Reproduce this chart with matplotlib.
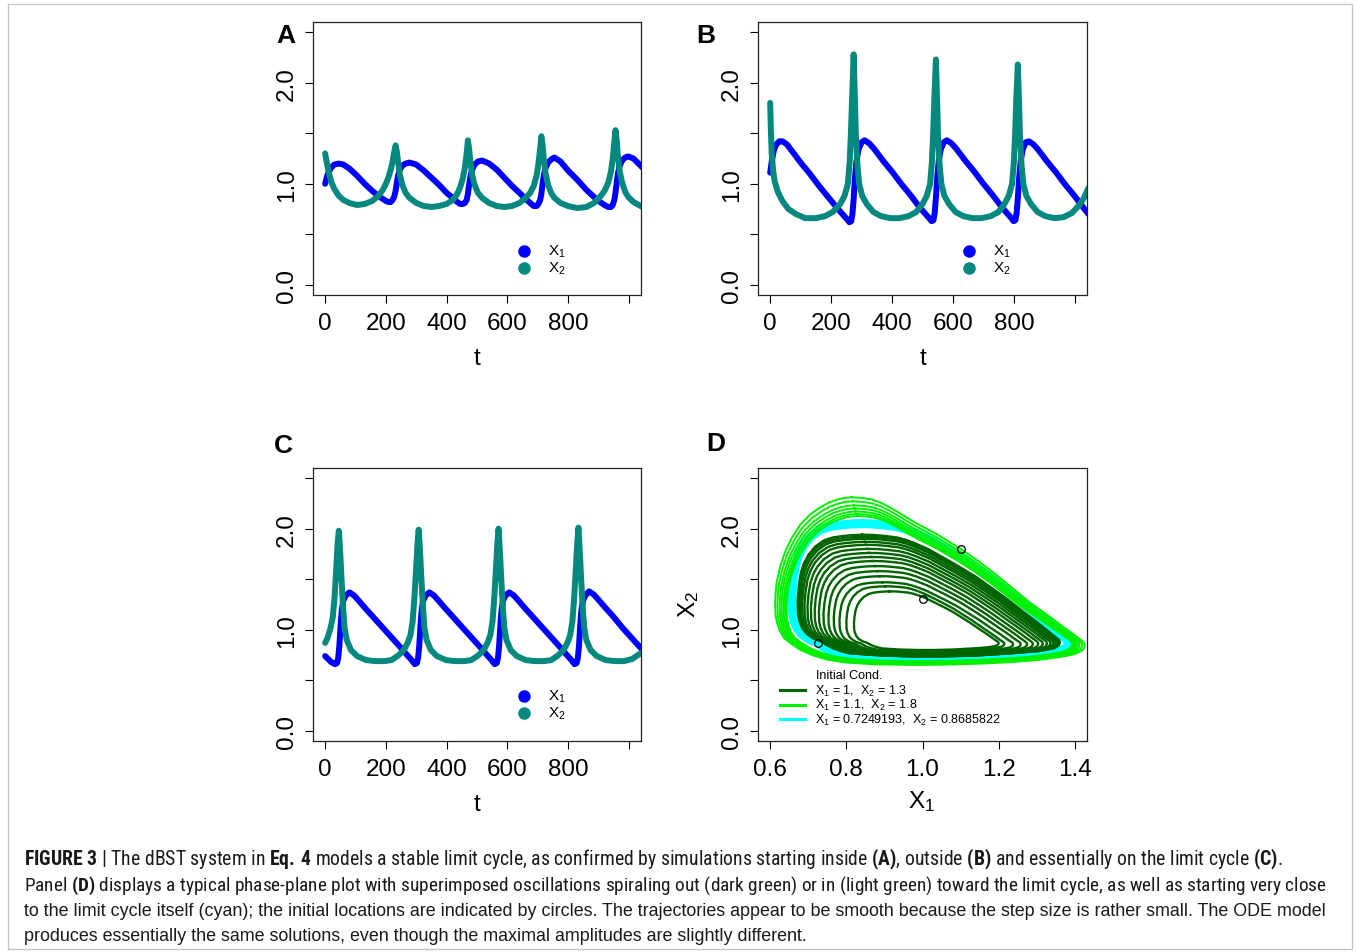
import matplotlib
matplotlib.use('Agg')
import matplotlib.pyplot as plt
import numpy as np
from matplotlib import font_manager
from matplotlib.lines import Line2D
from matplotlib.patches import Rectangle

W, H = 1356, 953

# Panel A: start inside the limit cycle (X1 = 1, X2 = 1.3)
t_a = [0, 6, 12, 20, 30, 45, 60, 80, 105, 130, 155, 175, 190, 200, 208, 216, 222, 227, 232, 236,
       240, 246, 254, 265, 278, 300, 325, 350, 375, 400, 420, 435, 445, 453, 460, 466, 470, 474, 478, 484,
       492, 503, 517, 540, 565, 590, 615, 640, 660, 675, 687, 696, 702, 708, 712, 716, 720, 726, 734, 744,
       755, 775, 800, 830, 860, 885, 905, 920, 932, 941, 947, 952, 956, 960, 964, 970, 978, 988, 998, 1015,
       1045]
x1_a = [1.00, 1.07, 1.12, 1.16, 1.19, 1.20, 1.19, 1.15, 1.08, 1.00, 0.93, 0.88, 0.85, 0.83, 0.82, 0.82, 0.84, 0.87, 0.93, 1.01,
        1.08, 1.14, 1.18, 1.20, 1.21, 1.19, 1.13, 1.06, 0.99, 0.91, 0.86, 0.82, 0.80, 0.80, 0.81, 0.84, 0.90, 0.99, 1.07, 1.14,
        1.19, 1.22, 1.23, 1.20, 1.14, 1.06, 0.98, 0.91, 0.85, 0.81, 0.78, 0.78, 0.80, 0.84, 0.90, 1.00, 1.09, 1.16, 1.21, 1.24,
        1.26, 1.22, 1.13, 1.04, 0.94, 0.87, 0.82, 0.79, 0.77, 0.77, 0.79, 0.84, 0.91, 1.01, 1.10, 1.18, 1.23, 1.26, 1.27, 1.25,
        1.16]
x2_a = [1.30, 1.20, 1.11, 1.02, 0.95, 0.88, 0.84, 0.81, 0.79, 0.80, 0.83, 0.88, 0.94, 1.00, 1.06, 1.14, 1.22, 1.31, 1.38, 1.32,
        1.22, 1.09, 0.99, 0.91, 0.86, 0.81, 0.78, 0.77, 0.78, 0.80, 0.84, 0.90, 0.97, 1.05, 1.16, 1.30, 1.43, 1.35, 1.22, 1.09,
        0.99, 0.91, 0.86, 0.81, 0.78, 0.77, 0.78, 0.81, 0.86, 0.91, 0.98, 1.08, 1.19, 1.35, 1.47, 1.38, 1.24, 1.10, 0.99, 0.91,
        0.86, 0.81, 0.78, 0.76, 0.77, 0.81, 0.87, 0.93, 1.01, 1.12, 1.25, 1.41, 1.53, 1.43, 1.27, 1.12, 1.01, 0.92, 0.87, 0.82,
        0.77]

# Panel B: start outside the limit cycle (X1 = 1.1, X2 = 1.8)
t_b1 = [0, 5, 12, 20, 30, 40, 55, 70, 85, 100, 130, 160, 190, 220, 240, 252, 260, 266, 270, 274,
        278, 283, 290, 300, 310, 325, 340, 355, 370, 400, 430, 460, 490, 510, 522, 530, 536, 540, 544, 548,
        553, 560, 570, 580, 595, 610, 625, 640, 670, 700, 730, 760, 780, 792, 799, 805, 809, 813, 817, 822,
        829, 839, 849, 864, 879, 894, 909, 939, 969, 999, 1029, 1045]
x1_b = [1.11, 1.22, 1.33, 1.39, 1.42, 1.42, 1.39, 1.33, 1.27, 1.21, 1.10, 0.98, 0.87, 0.76, 0.69, 0.65, 0.62, 0.63, 0.70, 0.85,
        1.05, 1.22, 1.34, 1.41, 1.43, 1.40, 1.35, 1.29, 1.23, 1.12, 1.00, 0.89, 0.77, 0.70, 0.66, 0.63, 0.64, 0.71, 0.86, 1.05,
        1.22, 1.34, 1.41, 1.43, 1.40, 1.35, 1.29, 1.23, 1.12, 1.00, 0.89, 0.77, 0.70, 0.66, 0.63, 0.64, 0.71, 0.86, 1.05, 1.22,
        1.34, 1.41, 1.42, 1.39, 1.34, 1.28, 1.22, 1.11, 0.99, 0.88, 0.76, 0.70]
t_b2 = [0, 2, 5, 10, 15, 25, 40, 60, 85, 115, 150, 180, 205, 230, 244, 255, 261, 265, 269, 274,
        278, 281, 286, 292, 302, 317, 339, 364, 394, 424, 454, 479, 500, 514, 525, 531, 535, 539, 544, 548,
        551, 556, 562, 572, 587, 609, 634, 664, 694, 724, 749, 769, 783, 794, 800, 804, 808, 813, 817, 820,
        825, 831, 841, 856, 878, 903, 933, 963, 990, 1015, 1030, 1045]
x2_b = [1.80, 1.55, 1.30, 1.12, 1.02, 0.92, 0.83, 0.75, 0.70, 0.66, 0.66, 0.68, 0.72, 0.80, 0.88, 1.00, 1.22, 1.50, 1.85, 2.28,
        1.85, 1.50, 1.20, 1.00, 0.88, 0.80, 0.72, 0.68, 0.66, 0.66, 0.68, 0.72, 0.80, 0.88, 1.00, 1.22, 1.50, 1.85, 2.23, 1.82,
        1.48, 1.19, 1.00, 0.88, 0.80, 0.72, 0.68, 0.66, 0.66, 0.68, 0.72, 0.80, 0.88, 1.00, 1.22, 1.50, 1.85, 2.18, 1.80, 1.47,
        1.19, 1.00, 0.88, 0.80, 0.72, 0.68, 0.66, 0.67, 0.71, 0.79, 0.86, 0.96]

# Panel C: start essentially on the limit cycle
t_c1 = [0, 10, 20, 32, 39, 43, 47, 51, 55, 60, 68, 80, 95, 110, 130, 160, 190, 220, 250, 270,
        285, 295, 302, 306, 310, 314, 318, 323, 331, 343, 358, 373, 393, 423, 453, 483, 513, 533, 548, 558,
        565, 569, 573, 577, 581, 586, 594, 606, 621, 636, 656, 686, 716, 746, 776, 796, 811, 821, 828, 832,
        836, 840, 844, 849, 857, 869, 884, 899, 919, 949, 979, 1009, 1045]
x1_c = [0.74, 0.71, 0.68, 0.66, 0.67, 0.72, 0.85, 1.05, 1.20, 1.29, 1.34, 1.37, 1.34, 1.29, 1.22, 1.12, 1.02, 0.92, 0.82, 0.75,
        0.70, 0.66, 0.67, 0.72, 0.85, 1.05, 1.20, 1.29, 1.34, 1.37, 1.34, 1.29, 1.22, 1.12, 1.02, 0.92, 0.82, 0.75, 0.70, 0.66,
        0.67, 0.72, 0.85, 1.05, 1.20, 1.29, 1.34, 1.37, 1.34, 1.29, 1.22, 1.12, 1.02, 0.92, 0.82, 0.75, 0.70, 0.66, 0.67, 0.72,
        0.85, 1.05, 1.20, 1.29, 1.34, 1.38, 1.35, 1.30, 1.23, 1.13, 1.02, 0.92, 0.80]
t_c2 = [0, 8, 18, 25, 31, 36, 41, 45, 49, 54, 59, 64, 71, 85, 105, 135, 165, 195, 218, 238,
        253, 263, 273, 281, 288, 294, 299, 304, 308, 312, 317, 322, 327, 334, 348, 368, 398, 428, 458, 481,
        501, 516, 526, 536, 544, 551, 557, 562, 567, 571, 575, 580, 585, 590, 597, 611, 631, 661, 691, 721,
        744, 764, 779, 789, 799, 807, 814, 820, 825, 830, 834, 838, 843, 848, 853, 860, 874, 894, 924, 954,
        984, 1010, 1045]
x2_c = [0.87, 0.92, 1.02, 1.12, 1.32, 1.58, 1.85, 1.98, 1.80, 1.50, 1.22, 1.02, 0.90, 0.80, 0.74, 0.70, 0.69, 0.69, 0.70, 0.74,
        0.78, 0.82, 0.88, 0.95, 1.08, 1.32, 1.58, 1.85, 1.99, 1.80, 1.50, 1.22, 1.02, 0.90, 0.80, 0.74, 0.70, 0.69, 0.69, 0.70,
        0.74, 0.78, 0.82, 0.88, 0.95, 1.08, 1.32, 1.58, 1.85, 2.00, 1.80, 1.50, 1.22, 1.02, 0.90, 0.80, 0.74, 0.70, 0.69, 0.69,
        0.70, 0.74, 0.78, 0.82, 0.88, 0.95, 1.08, 1.32, 1.58, 1.85, 2.01, 1.80, 1.50, 1.22, 1.02, 0.90, 0.80, 0.74, 0.70, 0.69,
        0.69, 0.71, 0.78]

# Panel D: limit cycle (cyan run), traced clockwise from its top
cycle_x1 = [0.836, 0.864, 0.890, 0.912, 0.932, 0.956, 0.980, 1.020, 1.060, 1.100, 1.150, 1.200, 1.238, 1.280, 1.326, 1.345,
            1.360, 1.373, 1.382, 1.384, 1.380, 1.370, 1.355, 1.326, 1.250, 1.151, 1.060, 0.976, 0.890, 0.801, 0.776,
            0.755, 0.738, 0.725, 0.700, 0.682, 0.670, 0.662, 0.658, 0.657, 0.660, 0.666, 0.675, 0.687, 0.706, 0.731,
            0.755, 0.780, 0.808]
cycle_x2 = [2.05, 2.048, 2.04, 2.03, 2.02, 1.995, 1.96, 1.89, 1.80, 1.71, 1.59, 1.45, 1.34, 1.21, 1.07, 1.01,
            0.96, 0.92, 0.89, 0.86, 0.83, 0.805, 0.79, 0.77, 0.745, 0.72, 0.71, 0.71, 0.72, 0.745, 0.77,
            0.80, 0.835, 0.87, 0.91, 0.96, 1.02, 1.10, 1.18, 1.33, 1.48, 1.63, 1.74, 1.83, 1.92, 1.99,
            2.02, 2.035, 2.045]
# outermost loop of the light green run
outer_x1 = [0.814, 0.840, 0.865, 0.889, 0.912, 0.935, 0.976, 1.040, 1.100, 1.150, 1.195, 1.240, 1.282, 1.330, 1.369, 1.388,
            1.405, 1.418, 1.425, 1.426, 1.422, 1.412, 1.395, 1.360, 1.300, 1.230, 1.151, 1.060, 0.976, 0.880, 0.800,
            0.750, 0.714, 0.680, 0.652, 0.636, 0.625, 0.618, 0.614, 0.613, 0.614, 0.617, 0.626, 0.639, 0.657, 0.679,
            0.705, 0.731, 0.755, 0.778, 0.796]
outer_x2 = [2.31, 2.305, 2.29, 2.26, 2.215, 2.165, 2.07, 1.94, 1.80, 1.67, 1.54, 1.40, 1.27, 1.14, 1.03, 0.98,
            0.93, 0.895, 0.865, 0.835, 0.805, 0.78, 0.755, 0.73, 0.70, 0.68, 0.665, 0.655, 0.652, 0.658, 0.675,
            0.705, 0.745, 0.80, 0.87, 0.92, 0.99, 1.07, 1.15, 1.25, 1.35, 1.47, 1.62, 1.77, 1.91, 2.04,
            2.14, 2.21, 2.26, 2.29, 2.305]
# extents of each successive loop (min X1, max X1, min X2, max X2)
dark_left = [0.820, 0.800, 0.782, 0.767, 0.753, 0.740, 0.728, 0.717, 0.707, 0.698, 0.690, 0.684, 0.679, 0.675, 0.672]
dark_right = [1.200, 1.215, 1.238, 1.258, 1.275, 1.290, 1.304, 1.316, 1.327, 1.336, 1.343, 1.349, 1.354, 1.358, 1.361]
dark_bottom = [0.800, 0.786, 0.776, 0.769, 0.763, 0.758, 0.754, 0.750, 0.747, 0.744, 0.742, 0.740, 0.738, 0.737, 0.736]
dark_top = [1.38, 1.43, 1.47, 1.53, 1.58, 1.63, 1.68, 1.72, 1.76, 1.80, 1.84, 1.87, 1.90, 1.92, 1.94]
light_left = [0.619, 0.625, 0.630, 0.635, 0.639, 0.643]
light_right = [1.419, 1.412, 1.406, 1.401, 1.397, 1.393]
light_bottom = [0.659, 0.666, 0.672, 0.678, 0.684, 0.690]
light_top = [2.27, 2.23, 2.20, 2.17, 2.145, 2.125]
start_x1 = [1.0, 1.1, 0.7249193]
start_x2 = [1.3, 1.8, 0.8685822]

BLUE = '#0000ff'
TEAL = '#05897f'
DARKGREEN = '#006400'
LIGHTGREEN = '#00f000'
CYAN = '#00ffff'

names = {f.name for f in font_manager.fontManager.ttflist}
NARROW = next((n for n in ['Liberation Sans Narrow', 'Roboto Condensed', 'Open Sans Condensed']
               if n in names), 'Liberation Sans')

plt.rcParams['font.family'] = 'Liberation Sans'
plt.rcParams['mathtext.fontset'] = 'custom'
plt.rcParams['mathtext.rm'] = 'Liberation Sans'
plt.rcParams['mathtext.it'] = 'Liberation Sans:italic'
plt.rcParams['mathtext.bf'] = NARROW + ':bold'

LABEL_SIZE = 17.5


def fx(px):
    return px / W


def fy(py):
    return 1 - py / H


def r_axes(fig, left, top, right, bottom):
    return fig.add_axes([fx(left), fy(bottom), (right - left) / W, (bottom - top) / H])


def style_r(ax, xticks, xlabels, xlim):
    ax.set_xlim(*xlim)
    ax.set_ylim(-0.1, 2.6)
    ax.set_xticks(xticks)
    ax.set_xticklabels(xlabels)
    ax.set_yticks([0, 0.5, 1.0, 1.5, 2.0, 2.5])
    ax.set_yticklabels(['0.0', '', '1.0', '', '2.0', ''])
    for lab in ax.get_yticklabels():
        lab.set_rotation(90)
        lab.set_va('center')
    ax.tick_params(direction='out', length=6, width=0.8, labelsize=LABEL_SIZE, pad=6, colors='black')
    ax.tick_params(axis='y', pad=5)
    for s in ax.spines.values():
        s.set_linewidth(0.9)
        s.set_color('#222222')


def scaled_loop(base_x, base_y, left, right, bottom, top):
    bx, by = np.asarray(base_x), np.asarray(base_y)
    x = left + (bx - bx.min()) / (bx.max() - bx.min()) * (right - left)
    y = bottom + (by - by.min()) / (by.max() - by.min()) * (top - bottom)
    return np.append(x, x[0]), np.append(y, y[0])


def dot_legend(fig, mx, my):
    for i, (col, lab) in enumerate([(BLUE, r'$\mathrm{X}_1$'), (TEAL, r'$\mathrm{X}_2$')]):
        y = my + 17 * i
        fig.add_artist(Line2D([fx(mx)], [fy(y)], marker='o', ms=8, color=col, mec=col,
                              transform=fig.transFigure))
        fig.text(fx(mx + 24), fy(y), lab, fontsize=11, va='center', ha='left')


def time_series(ax, s1, s2):
    ax.plot(*s1, color=BLUE, lw=4.3, solid_capstyle='round', solid_joinstyle='round')
    ax.plot(*s2, color=TEAL, lw=4.3, solid_capstyle='round', solid_joinstyle='round')


fig = plt.figure(figsize=(W / 100, H / 100), dpi=100)
fig.add_artist(Rectangle((fx(8), fy(950)), (1352 - 8) / W, (950 - 5) / H, transform=fig.transFigure,
                         fill=False, edgecolor='#c4c4c4', lw=1))

t_ticks = [0, 200, 400, 600, 800, 1000]
t_labels = ['0', '200', '400', '600', '800', '']
series = [
    ((313, 23, 641, 296), (t_a, x1_a), (t_a, x2_a), 'A', (286, 36), 524),
    ((758, 23, 1087, 296), (t_b1, x1_b), (t_b2, x2_b), 'B', (706, 36), 969),
]
for rect, s1, s2, letter, lpos, legx in series:
    ax = r_axes(fig, *rect)
    time_series(ax, s1, s2)
    style_r(ax, t_ticks, t_labels, (-40, 1040))
    fig.text(fx((rect[0] + rect[2]) / 2), fy(359), 't', fontsize=LABEL_SIZE, ha='center', va='center')
    fig.text(fx(lpos[0]), fy(lpos[1]), letter, fontsize=19, fontweight='bold', ha='center', va='center')
    dot_legend(fig, legx, 252)

ax = r_axes(fig, 313, 469, 641, 742)
time_series(ax, (t_c1, x1_c), (t_c2, x2_c))
style_r(ax, t_ticks, t_labels, (-40, 1040))
fig.text(fx(477), fy(805), 't', fontsize=LABEL_SIZE, ha='center', va='center')
fig.text(fx(283), fy(446), 'C', fontsize=19, fontweight='bold', ha='center', va='center')
dot_legend(fig, 524, 697)

# Panel D: phase plane
ax = r_axes(fig, 758, 469, 1087, 742)
ax.plot(cycle_x1 + cycle_x1[:1], cycle_x2 + cycle_x2[:1], color=CYAN, lw=6.5, solid_joinstyle='round')
ax.plot(outer_x1 + outer_x1[:1], outer_x2 + outer_x2[:1], color=LIGHTGREEN, lw=1.4)
for l, r, b, t in zip(light_left, light_right, light_bottom, light_top):
    ax.plot(*scaled_loop(outer_x1, outer_x2, l, r, b, t), color=LIGHTGREEN, lw=1.4)
for l, r, b, t in zip(dark_left, dark_right, dark_bottom, dark_top):
    ax.plot(*scaled_loop(cycle_x1, cycle_x2, l, r, b, t), color=DARKGREEN, lw=1.7)
ax.plot(start_x1, start_x2, 'o', mfc='none', mec='black', ms=5.5, mew=0.9)
style_r(ax, [0.6, 0.8, 1.0, 1.2, 1.4], ['0.6', '0.8', '1.0', '1.2', '1.4'], (0.568, 1.432))
fig.text(fx(922), fy(802), r'$\mathrm{X}_1$', fontsize=LABEL_SIZE, ha='center', va='center')
fig.text(fx(689), fy(604), r'$\mathrm{X}_2$', fontsize=LABEL_SIZE, ha='center', va='center', rotation=90)
fig.text(fx(716), fy(444), 'D', fontsize=19, fontweight='bold', ha='center', va='center')

fig.text(fx(816), fy(676), 'Initial Cond.', fontsize=9, va='center', ha='left')
ic_labels = [r'$\mathrm{X}_1$ = 1,  $\mathrm{X}_2$ = 1.3',
             r'$\mathrm{X}_1$ = 1.1,  $\mathrm{X}_2$ = 1.8',
             r'$\mathrm{X}_1$ = 0.7249193,  $\mathrm{X}_2$ = 0.8685822']
for i, (col, lab) in enumerate(zip([DARKGREEN, LIGHTGREEN, CYAN], ic_labels)):
    y = 691 + 14.5 * i
    fig.add_artist(Line2D([fx(780), fx(805)], [fy(y), fy(y)], color=col, lw=2.2, transform=fig.transFigure))
    fig.text(fx(815), fy(y), lab, fontsize=9, va='center', ha='left')

# caption, each line fitted to the text block width
caption = [
    (r'$\mathbf{FIGURE}$ $\mathbf{3}$ | The dBST system in $\mathbf{Eq.\,4}$ models a stable limit cycle, '
     r'as confirmed by simulations starting inside $\mathbf{(A)}$, outside $\mathbf{(B)}$ and essentially on the '
     r'limit cycle $\mathbf{(C)}$.', 1279, NARROW),
    (r'Panel $\mathbf{(D)}$ displays a typical phase-plane plot with superimposed oscillations spiraling out '
     r'(dark green) or in (light green) toward the limit cycle, as well as starting very close', 1322, NARROW),
    ('to the limit cycle itself (cyan); the initial locations are indicated by circles. The trajectories appear '
     'to be smooth because the step size is rather small. The ODE model', 1322, 'Liberation Sans'),
    ('produces essentially the same solutions, even though the maximal amplitudes are slightly different.',
     None, 'Liberation Sans'),
]
renderer = fig.canvas.get_renderer()
size = 13
for i, (txt, right, fam) in enumerate(caption):
    tx = fig.text(fx(24), fy(865 + 25.3 * i), txt, fontsize=13, family=fam, ha='left', va='baseline',
                  color='#1a1a1a')
    if right is not None:
        w = tx.get_window_extent(renderer=renderer).width
        size = 13 * (right - 24) / w
    tx.set_fontsize(size)

fig.savefig('out.png', dpi=100)
